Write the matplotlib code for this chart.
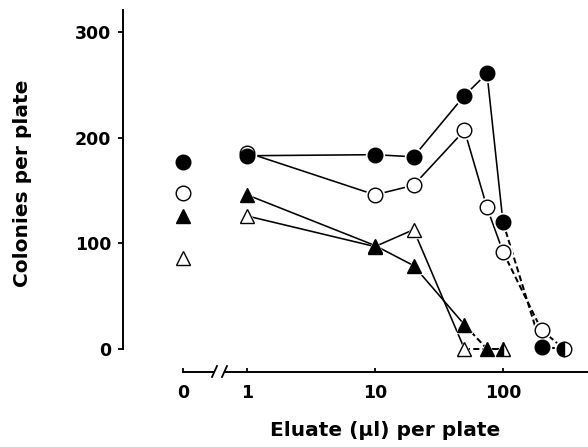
import numpy as np
import matplotlib
matplotlib.use("Agg")
import matplotlib.pyplot as plt
from matplotlib.lines import Line2D

plt.rcParams['font.family'] = ['DejaVu Sans']

# values at zero eluate (drawn on the separate "0" stub)
zero_filled_circle = 177
zero_open_circle = 148
zero_filled_tri = 126
zero_open_tri = 86

# eluate doses (log part of the axis)
dose_circle = [1, 10, 20, 50, 75, 100, 200, 300]
filled_circle = [183, 184, 182, 240, 261, 120, 2, 0]
open_circle = [186, 146, 155, 207, 134, 92, 18, 0]

dose_filled_tri = [1, 10, 20, 50, 75, 100]
filled_tri = [146, 98, 79, 23, 0, 0]

dose_open_tri = [1, 10, 20, 50, 100]
open_tri = [126, 97, 113, 0, 0]

y_ticks = [0, 100, 200, 300]
x_ticks = [1, 10, 100]
x_ticklabels = ['1', '10', '100']

W, H = 588, 447
fig = plt.figure(figsize=(W / 100, H / 100), dpi=100)

def fx(px):
    return px / W

def fy(py):
    return 1 - py / H

bottom = fy(349)
height = fy(10) - fy(349)
ax0 = fig.add_axes([fx(123), bottom, fx(219) - fx(123), height])
ax1 = fig.add_axes([fx(222), bottom, fx(588) - fx(222), height])

for ax in (ax0, ax1):
    ax.set_ylim(0, 321)
    ax.patch.set_alpha(0)
    ax.spines['top'].set_visible(False)
    ax.spines['right'].set_visible(False)
    ax.spines['bottom'].set_position(('outward', 16.5))
    ax.spines['bottom'].set_linewidth(1.4)
    ax.spines['left'].set_linewidth(1.4)

tick_font = dict(fontsize=12.5, fontweight='bold')

ax0.set_xlim(-60, 36)
ax0.spines['bottom'].set_bounds(0, 30)
ax0.set_yticks(y_ticks)
ax0.set_yticklabels([str(v) for v in y_ticks], **tick_font)
ax0.tick_params(axis='y', direction='out', length=3.5, width=1.3, pad=5)
ax0.set_xticks([0])
ax0.set_xticklabels(['0'], **tick_font)
ax0.tick_params(axis='x', direction='in', length=3, width=1.3, pad=9)

ax1.set_xscale('log')
lo = 10 ** (-25 / 128)
hi = 10 ** (341 / 128)
ax1.set_xlim(lo, hi)
ax1.spines['left'].set_visible(False)
ax1.spines['bottom'].set_bounds(10 ** (-21 / 128), hi)
ax1.set_xticks(x_ticks)
ax1.set_xticklabels(x_ticklabels, **tick_font)
ax1.xaxis.set_minor_locator(matplotlib.ticker.NullLocator())
ax1.tick_params(axis='x', direction='in', length=3, width=1.3, pad=9)
ax1.set_yticks([])

ms_c = 10.5
ms_t = 9.5
lw = 1.15

def draw_series(x, y, marker, ms, filled, dashed_from):
    for i in range(len(x) - 1):
        ls = (0, (3, 1.6)) if i >= dashed_from else '-'
        ax1.plot(x[i:i + 2], y[i:i + 2], color='black',
                 lw=lw + 0.3 if i >= dashed_from else lw, ls=ls,
                 zorder=2, clip_on=False)
    # white halo so lines stop short of the markers
    ax1.plot(x, y, ls='none', marker=marker, ms=ms + 2.5, mfc='white',
             mec='white', zorder=3, clip_on=False)
    ax1.plot(x[:-1], y[:-1], ls='none', marker=marker, ms=ms,
             mfc='black' if filled else 'white', mec='black', mew=1.0,
             zorder=4, clip_on=False)

draw_series(dose_open_tri, open_tri, '^', ms_t, False, 3)
draw_series(dose_filled_tri, filled_tri, '^', ms_t, True, 3)
draw_series(dose_circle, open_circle, 'o', ms_c, False, 5)
draw_series(dose_circle, filled_circle, 'o', ms_c, True, 5)

# end points shared by filled/open series: half-filled markers
ax1.plot(dose_filled_tri[-1], filled_tri[-1], ls='none', marker='^', ms=ms_t,
         fillstyle='left', mfc='black', mfcalt='white', mec='black',
         mew=1.0, zorder=5, clip_on=False)
ax1.plot(dose_circle[-1], filled_circle[-1], ls='none', marker='o', ms=ms_c,
         fillstyle='left', mfc='black', mfcalt='white', mec='black',
         mew=1.0, zorder=5, clip_on=False)

# zero-dose points
for val, mk, ms, filled in [(zero_filled_circle, 'o', ms_c, True),
                            (zero_open_circle, 'o', ms_c, False),
                            (zero_filled_tri, '^', ms_t, True),
                            (zero_open_tri, '^', ms_t, False)]:
    ax0.plot([0], [val], ls='none', marker=mk, ms=ms,
             mfc='black' if filled else 'white', mec='black', mew=1.0,
             clip_on=False)

# axis break marks
for x0 in (212, 222):
    fig.add_artist(Line2D([fx(x0), fx(x0 + 5)], [fy(377), fy(366)],
                          color='black', lw=1.3))

fig.text(fx(23), fy(183), 'Colonies per plate', rotation=90, ha='center',
         va='center', fontsize=14.5, fontweight='bold')
fig.text(fx(385), fy(430), 'Eluate (µl) per plate', ha='center',
         va='center', fontsize=14.5, fontweight='bold')

fig.savefig('out.png', dpi=100)
